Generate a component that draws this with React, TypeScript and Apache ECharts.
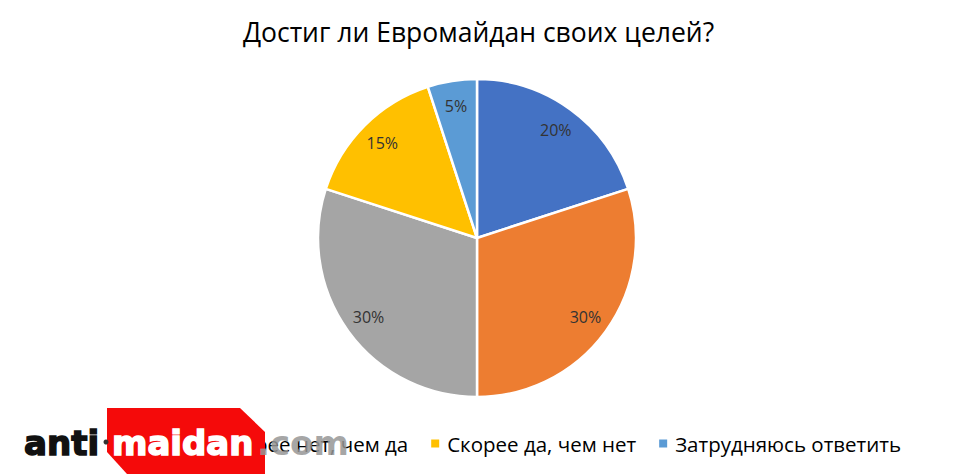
import React, { useEffect, useRef } from "react";
import * as echarts from "echarts";

const TITLE = "Достиг ли Евромайдан своих целей?";
const categories = ["Да", "Нет", "Скорее нет, чем да", "Скорее да, чем нет", "Затрудняюсь ответить"];
const values = [20, 30, 30, 15, 5];
const colors = ["#4472C4", "#ED7D31", "#A5A5A5", "#FFC000", "#5B9BD5"];

const FONT = "'Open Sans', 'Noto Sans', sans-serif";
const LOGO_FONT = "DejaVu Sans";

export default function App() {
  const ref = useRef<HTMLDivElement>(null);
  useEffect(() => {
    if (!ref.current) return;
    const chart = echarts.init(ref.current, undefined, { renderer: "svg" });
    const data = categories.map((name, i) => ({
      name,
      value: values[i],
      itemStyle: { color: colors[i] },
    }));
    const logoText = (x: number, text: string, fill: string, stroke?: string) => ({
      type: "text",
      z: 102,
      x,
      y: 443,
      style: {
        text,
        fill,
        stroke: stroke || undefined,
        lineWidth: stroke ? 1.5 : 0,
        fontFamily: LOGO_FONT,
        fontWeight: "bold",
        fontSize: 34,
        verticalAlign: "middle",
      },
    });
    chart.setOption({
      animation: false,
      backgroundColor: "#ffffff",
      title: {
        text: TITLE,
        left: "center",
        top: 13,
        textStyle: { fontFamily: FONT, fontSize: 26.5, fontWeight: "normal", color: "#000" },
      },
      legend: {
        data: categories,
        top: 428,
        right: 51,
        icon: "rect",
        itemWidth: 10,
        itemHeight: 10,
        itemGap: 21,
        textStyle: { fontFamily: FONT, fontSize: 20.5, color: "#000", padding: [0, 0, 0, 2] },
      },
      series: [
        {
          type: "pie",
          center: [477, 238],
          radius: [0, 159],
          startAngle: 90,
          clockwise: true,
          silent: true,
          label: { show: false },
          labelLine: { show: false },
          itemStyle: { borderColor: "#ffffff", borderWidth: 2.5 },
          data,
        },
        {
          type: "pie",
          center: [477, 238],
          radius: [102, 160],
          startAngle: 90,
          clockwise: true,
          silent: true,
          z: 3,
          itemStyle: { color: "rgba(0,0,0,0)", borderWidth: 0 },
          label: {
            show: true,
            position: "inside",
            formatter: (p: any) => p.value + "%",
            fontFamily: FONT,
            fontSize: 16,
            color: "#333333",
          },
          labelLine: { show: false },
          data: categories.map((name, i) => ({ name, value: values[i] })),
        },
      ],
      graphic: [
        {
          type: "rect",
          z: 99,
          shape: { x: 14, y: 414, width: 96, height: 56 },
          style: { fill: "#ffffff" },
        },
        {
          type: "polygon",
          z: 100,
          shape: {
            points: [
              [107, 408],
              [240, 408],
              [265, 432],
              [265, 474],
              [127, 474],
              [107, 452],
            ],
          },
          style: { fill: "#F50A0A" },
        },
        logoText(24, "anti", "#111111", "#111111"),
        {
          type: "circle",
          z: 102,
          shape: { cx: 106, cy: 442, r: 2.5 },
          style: { fill: "#333333" },
        },
        logoText(112, "maidan", "#ffffff", "#ffffff"),
        logoText(257, ".com", "rgba(150,150,150,0.85)"),
      ],
    });
    return () => chart.dispose();
  }, []);
  return (
    <div
      ref={ref}
      style={{ position: "fixed", left: 0, top: 0, width: 957, height: 474, background: "#fff" }}
    />
  );
}
